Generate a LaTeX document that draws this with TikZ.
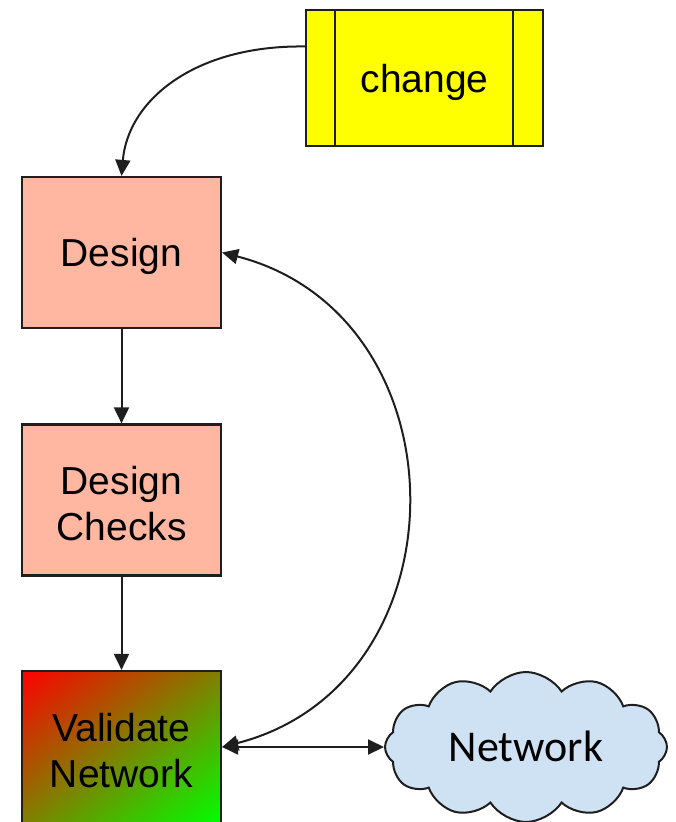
\documentclass[tikz,border=0pt]{standalone}
\usepackage{fontspec}
\setmainfont{Liberation Sans}
\newfontfamily\cloudfont{Carlito}
\usetikzlibrary{arrows.meta,shapes.symbols,calc,shadings}
\definecolor{salmon}{HTML}{FFB7A1}
\definecolor{cloudblue}{HTML}{CFE2F3}
\definecolor{edge}{HTML}{1E1E1E}
\definecolor{pureyellow}{RGB}{255,255,0}
\definecolor{brightgreen}{RGB}{0,255,0}
\definecolor{olive}{RGB}{128,128,0}
\begin{document}
\begin{tikzpicture}[x=1pt,y=-1pt,
  >={Triangle[length=16pt,width=15pt]},
  boxstyle/.style={draw=edge, line width=2.2pt, minimum width=199pt, minimum height=151pt,
    inner sep=0pt},
  boxtext/.style={font=\fontsize{39}{46}\selectfont, align=center, yshift=-4pt, inner sep=0pt},
  conn/.style={draw=edge, line width=2pt}]
  \useasboundingbox (0,0) rectangle (675,822);

  % process boxes
  \node[boxstyle, fill=pureyellow, minimum width=237pt, minimum height=136pt,
        label={[boxtext, name=changetxt]center:change}] (change) at (424.5,78) {};
  \draw[edge, line width=2.2pt] (335,10) -- (335,146) (513,10) -- (513,146);

  \node[boxstyle, fill=salmon, label={[boxtext, name=designtxt]center:Design}] (design) at (121.5,252.5) {};
  \node[boxstyle, fill=salmon, label={[boxtext, name=checkstxt]center:Design\\Checks}] (checks) at (121.5,500) {};
  \node[boxstyle, shade, upper left=red, lower right=brightgreen,
        upper right=olive, lower left=olive, minimum height=152pt,
        label={[boxtext, name=validatetxt]center:Validate\\Network}] (validate) at (121.5,747) {};

  % network cloud
  \node[cloud, cloud puffs=12, cloud puff arc=115, aspect=1.9, draw=edge, line width=2pt,
        fill=cloudblue, minimum width=282pt, minimum height=150pt, inner sep=0pt] (net) at (526,747) {};
  \node[font=\cloudfont\fontsize{44}{50}\selectfont, yshift=1pt] (nettxt) at (net.center) {Network};

  % connectors
  \draw[conn, ->] ($(change.north west)!0.272!(change.south west)$)
        .. controls (195,45) and (128,100) .. (design.north);
  \draw[conn, ->] (design.south) -- (checks.north);
  \draw[conn, ->] (checks.south) -- (validate.north);
  \draw[conn, <->] (design.east) .. controls (468,316) and (468,684) .. (validate.east);
  \draw[conn, <->] (validate.east) -- (net.west);
\end{tikzpicture}
\end{document}
